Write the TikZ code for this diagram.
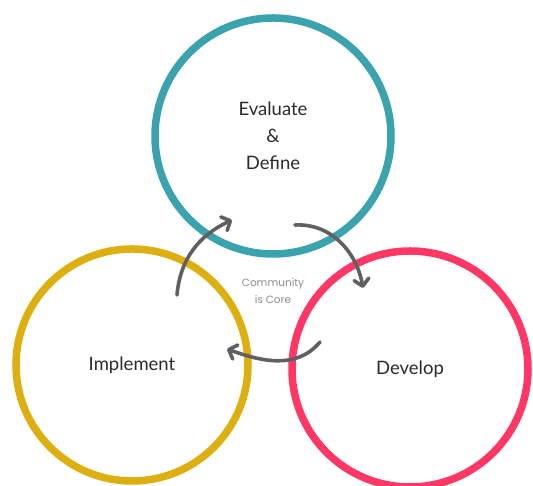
\documentclass[tikz,border=0pt]{standalone}
\usepackage{fontspec}
\setmainfont{Lato}
\newfontfamily\coretext{Poppins}
\usepackage{xcolor}
\usetikzlibrary{arrows.meta, positioning}
\definecolor{evalteal}{HTML}{3BA3AD}
\definecolor{implyellow}{HTML}{DDAF10}
\definecolor{devpink}{HTML}{FF3764}
\definecolor{cyclegray}{HTML}{606060}
\definecolor{labelgray}{HTML}{2A2A2A}
\definecolor{coregray}{HTML}{8C8C8C}

\begin{document}
\begin{tikzpicture}[
    x=1pt, y=1pt,
    every node/.style={font=\fontsize{18.5}{27}\selectfont, text=labelgray},
    ring/.style={
        circle,
        line width=7.5pt,
        minimum size=236pt,
        inner sep=0pt,
        align=center
    },
    cyclearrow/.style={
        -{Straight Barb[length=7pt,width=15pt,round]},
        line width=3.6pt,
        line cap=round,
        draw=cyclegray
    }
]
\useasboundingbox (0,0) rectangle (533,486);

% Three circles
\node[ring, draw=evalteal] (evaluate) at (273,350) {Evaluate\\\&\\Define};
\node[ring, draw=implyellow, minimum size=232pt] (implement) at (132,121) {Implement};
\node[ring, draw=devpink] (develop) at (410,117) {Develop};

% Centre label
\node[font=\coretext\fontsize{10.5}{17}\selectfont, text=coregray, align=center] (core) at (273,195) {Community\\is Core};

% Arrow end points
\coordinate (implout) at (177,191);
\coordinate (evalin) at (232,266);
\coordinate (evalout) at (295,261);
\coordinate (devin) at (363,198);
\coordinate (devout) at (320,144);
\coordinate (implin) at (227,137);

% Cycle arrows
\draw[cyclearrow] (implout) to[out=85, in=205] (evalin);
\draw[cyclearrow] (evalout) to[out=3, in=100] (devin);
\draw[cyclearrow] (devout) to[out=230, in=-20] (implin);

\end{tikzpicture}
\end{document}
